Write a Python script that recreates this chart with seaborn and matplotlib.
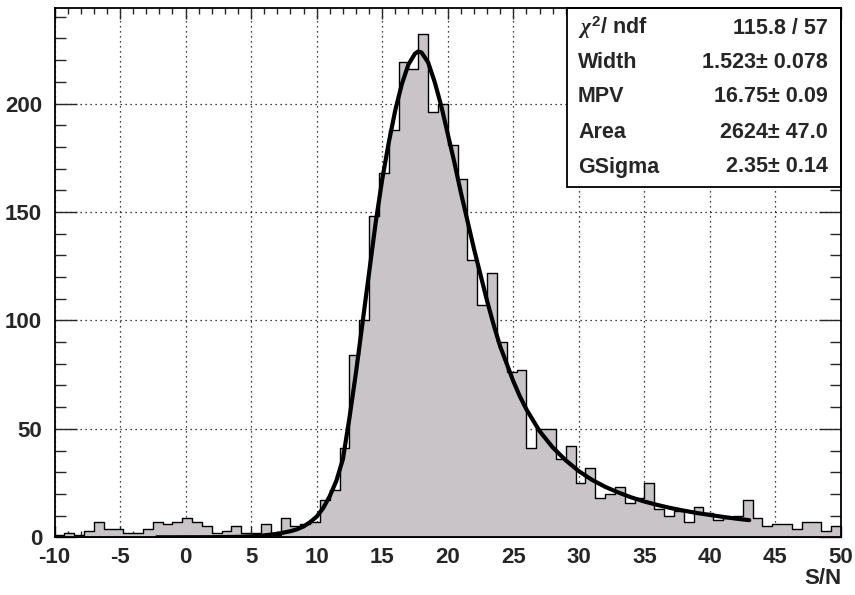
import numpy as np
import pandas as pd
import seaborn as sns
import matplotlib
matplotlib.use("Agg")
import matplotlib.pyplot as plt
from matplotlib.patches import Rectangle
from matplotlib.ticker import MultipleLocator

# histogram binning: 80 bins between -10 and 50
bin_lo = -10.0
bin_hi = 50.0
n_bins = 80

# bin contents
counts = [1, 2, 1, 3, 7, 4, 4, 2, 2, 4,
          7, 6, 7, 9, 7, 5, 2, 3, 5, 2,
          2, 6, 1, 9, 5, 6, 7, 17, 22, 41,
          84, 100, 148, 168, 188, 219, 216, 232, 196, 200,
          181, 165, 128, 107, 122, 90, 76, 77, 41, 50,
          50, 36, 42, 25, 32, 18, 20, 23, 16, 18,
          25, 13, 10, 12, 7, 14, 11, 8, 9, 10,
          17, 9, 5, 6, 6, 4, 7, 7, 3, 5]

# fitted Landau x Gauss curve
fit_x = [-2.2, 0.0, 2.0, 4.0, 5.0, 6.0, 7.0, 8.0, 8.5, 9.0,
         9.5, 10.0, 10.5, 11.0, 11.5, 12.0, 12.5, 13.0, 13.5, 14.0,
         14.5, 15.0, 15.5, 16.0, 16.5, 17.0, 17.5, 17.75, 18.0, 18.5,
         19.0, 19.5, 20.0, 20.5, 21.0, 21.5, 22.0, 22.5, 23.0, 23.5,
         24.0, 24.5, 25.0, 25.5, 26.0, 27.0, 28.0, 29.0, 30.0, 31.0,
         32.0, 33.0, 34.0, 35.0, 36.0, 37.0, 38.0, 39.0, 40.0, 41.0,
         42.0, 43.0]
fit_y = [0.0, 0.02, 0.05, 0.2, 0.45, 0.9, 1.6, 2.8, 3.7, 5.0,
         7.0, 9.5, 13.5, 19.0, 26.0, 36.0, 55.0, 76.0, 99.0, 122.0,
         145.0, 165.0, 182.0, 197.0, 209.0, 218.0, 223.0, 224.0, 223.5, 219.0,
         210.0, 199.0, 186.0, 173.0, 159.0, 146.0, 133.0, 121.0, 109.0, 98.0,
         88.0, 80.0, 72.0, 65.0, 59.0, 49.0, 41.5, 35.5, 30.5, 26.5,
         23.3, 20.7, 18.4, 16.5, 14.9, 13.5, 12.3, 11.2, 10.3, 9.4,
         8.6, 7.9]

stat_names = [r'$\chi^{2}$/ ndf', 'Width', 'MPV', 'Area', 'GSigma']
stat_values = ['115.8 / 57', '1.523\u00b1 0.078', '16.75\u00b1 0.09',
               '2624\u00b1 47.0', '2.35\u00b1 0.14']

bin_w = (bin_hi - bin_lo) / n_bins
centers = bin_lo + bin_w * (np.arange(n_bins) + 0.5)
df = pd.DataFrame({'sn': centers, 'n': counts})

sns.set_style('ticks')
plt.rcParams['font.family'] = ['Liberation Sans', 'DejaVu Sans']
plt.rcParams['font.weight'] = 'bold'
plt.rcParams['axes.unicode_minus'] = False
plt.rcParams['mathtext.fontset'] = 'custom'
plt.rcParams['mathtext.it'] = 'Liberation Serif:italic'
plt.rcParams['mathtext.rm'] = 'Liberation Sans:bold'

fig = plt.figure(figsize=(8.55, 5.95), dpi=100)
W, H = 855, 595
x0, x1, y0, y1 = 54.5, 841, 8.3, 537.3
ax = fig.add_axes([x0 / W, 1 - y1 / H, (x1 - x0) / W, (y1 - y0) / H])

sns.histplot(data=df, x='sn', weights='n', binwidth=bin_w,
             binrange=(bin_lo, bin_hi), element='step',
             fill=True, facecolor='#c8c4c8', edgecolor='black',
             linewidth=1.0, alpha=1, ax=ax, zorder=2)
sns.lineplot(x=fit_x, y=fit_y, color='black', linewidth=3, sort=False,
             estimator=None, ax=ax, zorder=3)

ax.set_xlim(bin_lo, bin_hi)
ax.set_ylim(0, 243.9)
ax.set_xlabel('')
ax.set_ylabel('')

ax.xaxis.set_major_locator(MultipleLocator(5))
ax.xaxis.set_minor_locator(MultipleLocator(1))
ax.yaxis.set_major_locator(MultipleLocator(50))
ax.yaxis.set_minor_locator(MultipleLocator(10))
ax.tick_params(axis='x', which='major', direction='in', length=8, width=1.0,
               labelsize=16, pad=7, top=True)
ax.tick_params(axis='x', which='minor', direction='in', length=4.5, width=1.0, top=True)
ax.tick_params(axis='y', which='major', direction='in', length=16, width=1.0,
               labelsize=16, pad=9, right=True)
ax.tick_params(axis='y', which='minor', direction='in', length=8, width=1.0, right=True)
for lab in ax.get_xticklabels() + ax.get_yticklabels():
    lab.set_fontweight('bold')
# the "0" of the y axis sits a touch higher than its tick, as in ROOT
ax.get_yticklabels()[0].set_verticalalignment('bottom')

ax.grid(True, which='major', linestyle=(0, (1, 3)), color='black', linewidth=0.9)
ax.set_axisbelow(True)
for sp in ax.spines.values():
    sp.set_linewidth(1.3)
    sp.set_color('black')
    sp.set_zorder(6)

ax.text(1.0, (y1 - 578) / (y1 - y0), 'S/N', transform=ax.transAxes,
        ha='right', va='center', fontsize=16, fontweight='bold')

# stats box
bx = (567 - x0) / (x1 - x0)
by = (y1 - 187) / (y1 - y0)
ax.add_patch(Rectangle((bx, by), 1 - bx, 1 - by, transform=ax.transAxes,
                       facecolor='white', edgecolor='black', linewidth=1.3,
                       zorder=5, clip_on=False))
row_y = [28, 63, 97, 132, 167]
for name, val, ry in zip(stat_names, stat_values, row_y):
    fy = (y1 - ry) / (y1 - y0)
    ax.text((578 - x0) / (x1 - x0), fy, name, transform=ax.transAxes,
            ha='left', va='center', fontsize=15.5, fontweight='bold', zorder=7)
    ax.text((828 - x0) / (x1 - x0), fy, val, transform=ax.transAxes,
            ha='right', va='center', fontsize=15.5, fontweight='bold', zorder=7)

fig.savefig('out.png', dpi=100)
